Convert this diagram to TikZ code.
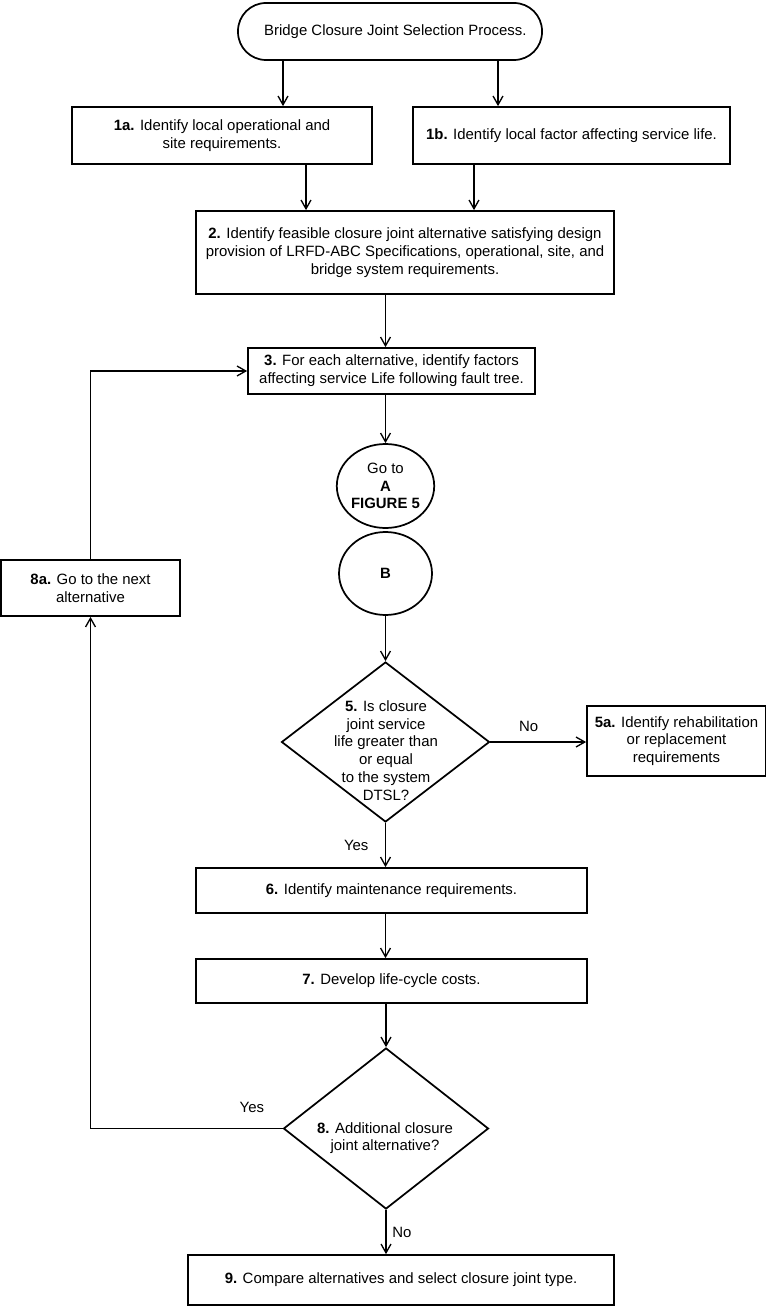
\documentclass[tikz,border=0pt]{standalone}
\usepackage{fontspec}
\setmainfont{Liberation Sans}
\usepackage{tikz}
\usetikzlibrary{arrows.meta,positioning,shapes.geometric}
\newcommand{\flowfont}{\fontsize{11.2}{13.3}\selectfont}
\tikzset{
  ar/.style={-{Straight Barb[length=2.3mm,width=2.6mm]},line width=1pt},
  box/.style={draw,line width=1.3pt,align=center,inner sep=2pt,font=\flowfont},
  term/.style={box,rounded corners=21pt},
  conn/.style={draw,ellipse,line width=1.3pt,inner sep=0pt,align=center,font=\flowfont},
  dec/.style={draw,diamond,line width=1.3pt,inner sep=0pt},
  txt/.style={align=center,inner sep=0pt,font=\flowfont},
  lbl/.style={font=\flowfont}
}
\begin{document}
\begin{tikzpicture}[x=0.75pt,y=-0.75pt]
\useasboundingbox (0,0) rectangle (765,1308);
\node[term,minimum width=228pt,minimum height=42.75pt] (start) at (390,31.5) {\hspace{8pt}Bridge Closure Joint Selection Process.};
\node[box,minimum width=225pt,minimum height=42.75pt] (s1a) at (222,135.5) {\textbf{1a.} Identify local operational and\\site requirements.};
\node[box,minimum width=237.75pt,minimum height=42.75pt] (s1b) at (571.5,135.5) {\textbf{1b.} Identify local factor affecting service life.};
\node[box,minimum width=313.5pt,minimum height=62.25pt] (s2) at (405,252.5) {\textbf{2.} Identify feasible closure joint alternative satisfying design\\provision of LRFD-ABC Specifications, operational, site, and\\bridge system requirements.};
\node[box,minimum width=215.25pt,minimum height=34.5pt] (s3) at (391.5,371) {\textbf{3.} For each alternative, identify factors\\affecting service Life following fault tree.};
\node[conn,minimum width=69.75pt,minimum height=63pt] (goA) at (385.5,486) {Go to\\\textbf{A}\\\textbf{FIGURE 5}};
\node[conn,minimum width=69.75pt,minimum height=62.25pt] (fromB) at (385.5,573.5) {\textbf{B}};
\node[box,minimum width=134.25pt,minimum height=42pt] (s8a) at (90.5,588) {\textbf{8a.} Go to the next\\alternative};
\node[dec,minimum width=156pt,minimum height=120pt] (s5) at (385.5,742) {};
\node[txt] (s5t) at (386,750.5) {\textbf{5.} Is closure\\joint service\\life greater than\\or equal\\to the system\\DTSL?};
\node[box,minimum width=134.25pt,minimum height=52.5pt] (s5a) at (676.5,741) {\textbf{5a.} Identify rehabilitation\\or replacement\\requirements};
\node[box,minimum width=293.25pt,minimum height=33.75pt] (s6) at (391.5,890.5) {\textbf{6.} Identify maintenance requirements.};
\node[box,minimum width=293.25pt,minimum height=33pt] (s7) at (391.5,981) {\textbf{7.} Develop life-cycle costs.};
\node[dec,minimum width=153.75pt,minimum height=120.75pt] (s8) at (386,1128.5) {};
\node[txt] (s8t) at (385,1138) {\textbf{8.} Additional closure\\joint alternative?};
\node[box,minimum width=319.5pt,minimum height=37.5pt] (s9) at (401,1280) {\textbf{9.} Compare alternatives and select closure joint type.};
\coordinate (x1) at (283,0);
\coordinate (x2) at (498,0);
\coordinate (x3) at (306,0);
\coordinate (x4) at (474,0);
\draw[ar] (start.south -| x1) -- (s1a.north -| x1);
\draw[ar] (start.south -| x2) -- (s1b.north -| x2);
\draw[ar] (s1a.south -| x3) -- (s2.north -| x3);
\draw[ar] (s1b.south -| x4) -- (s2.north -| x4);
\draw[ar] (s2.south -| goA) -- (s3.north -| goA);
\draw[ar] (s3.south -| goA) -- (goA.north);
\draw[ar] (fromB.south) -- (s5.north);
\draw[ar] (s5.east) -- (s5.east -| s5a.west) node[lbl,pos=0.4,above=4pt] {No};
\draw[ar] (s5.south) -- (s6.north -| s5) node[lbl,midway,left=9pt] {Yes};
\draw[ar] (s6.south -| s5) -- (s7.north -| s5);
\draw[ar] (s7.south -| s8) -- (s8.north);
\draw[ar] (s8.south) -- (s9.north -| s8) node[lbl,midway,right=1pt] {No};
\draw[ar] (s8.west) -| (s8a.south) node[lbl,pos=0.08,above=8pt] {Yes};
\draw[ar] (s8a.north) |- (s3.west);
\end{tikzpicture}
\end{document}
